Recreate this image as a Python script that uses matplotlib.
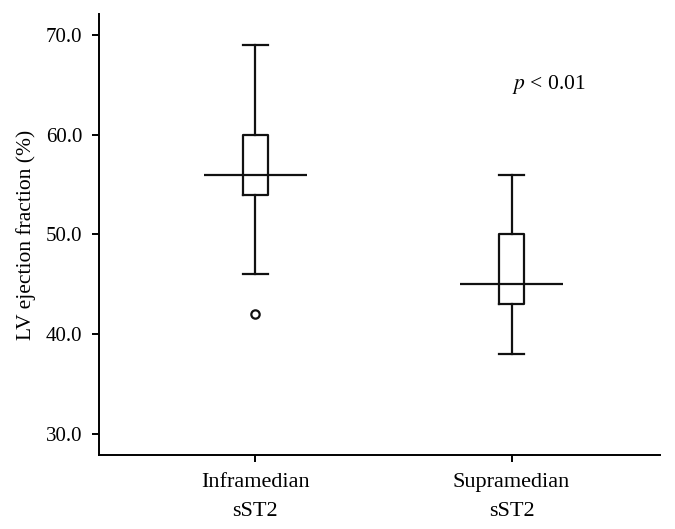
import matplotlib.pyplot as plt

# box plot summary
groups = ["Inframedian\nsST2", "Supramedian\nsST2"]
whisker_low = [46, 38]
q1 = [54, 43]
median = [56, 45]
q3 = [60, 50]
whisker_high = [69, 56]
outliers = [[42], []]

plt.rcParams["font.family"] = ["Liberation Serif", "DejaVu Serif"]
plt.rcParams["mathtext.fontset"] = "stix"

fig = plt.figure(figsize=(6.75, 5.29), dpi=100)
ax = fig.add_axes([0.1467, 0.140, 0.8313, 0.8335])

stats = []
for i in range(len(groups)):
    stats.append({
        "whislo": whisker_low[i], "q1": q1[i], "med": median[i],
        "q3": q3[i], "whishi": whisker_high[i], "fliers": outliers[i],
    })

positions = [1, 2]
lw = 1.6
ax.bxp(stats, positions=positions, widths=0.1, showfliers=True,
       boxprops=dict(color="#111111", linewidth=lw),
       whiskerprops=dict(color="#111111", linewidth=lw),
       capprops=dict(color="#111111", linewidth=lw),
       medianprops=dict(linewidth=0),
       flierprops=dict(marker="o", markerfacecolor="white",
                       markeredgecolor="#111111", markersize=6, markeredgewidth=1.6),
       capwidths=0.1)

# median line drawn wider than the box
for p, m in zip(positions, median):
    ax.hlines(m, p - 0.2, p + 0.2, colors="#111111", linewidth=lw)

ax.text(2.0, 65, "$\\it{p}$ < 0.01", fontsize=15.5, ha="left", va="center")

ax.set_xlim(0.39, 2.58)
ax.set_ylim(27.9, 72.1)
ax.set_yticks([30, 40, 50, 60, 70])
ax.set_yticklabels(["30.0", "40.0", "50.0", "60.0", "70.0"])
ax.set_xticks(positions)
ax.set_xticklabels(groups, fontsize=16, linespacing=1.75)
ax.set_ylabel("LV ejection fraction (%)", fontsize=15.5, labelpad=7)

ax.spines["top"].set_visible(False)
ax.spines["right"].set_visible(False)
ax.spines["left"].set_linewidth(1.4)
ax.spines["bottom"].set_linewidth(1.4)
ax.tick_params(axis="y", labelsize=15, length=5, width=1.4, pad=7)
ax.tick_params(axis="x", length=5, width=1.4, pad=8)

fig.savefig("out.png", dpi=100)
